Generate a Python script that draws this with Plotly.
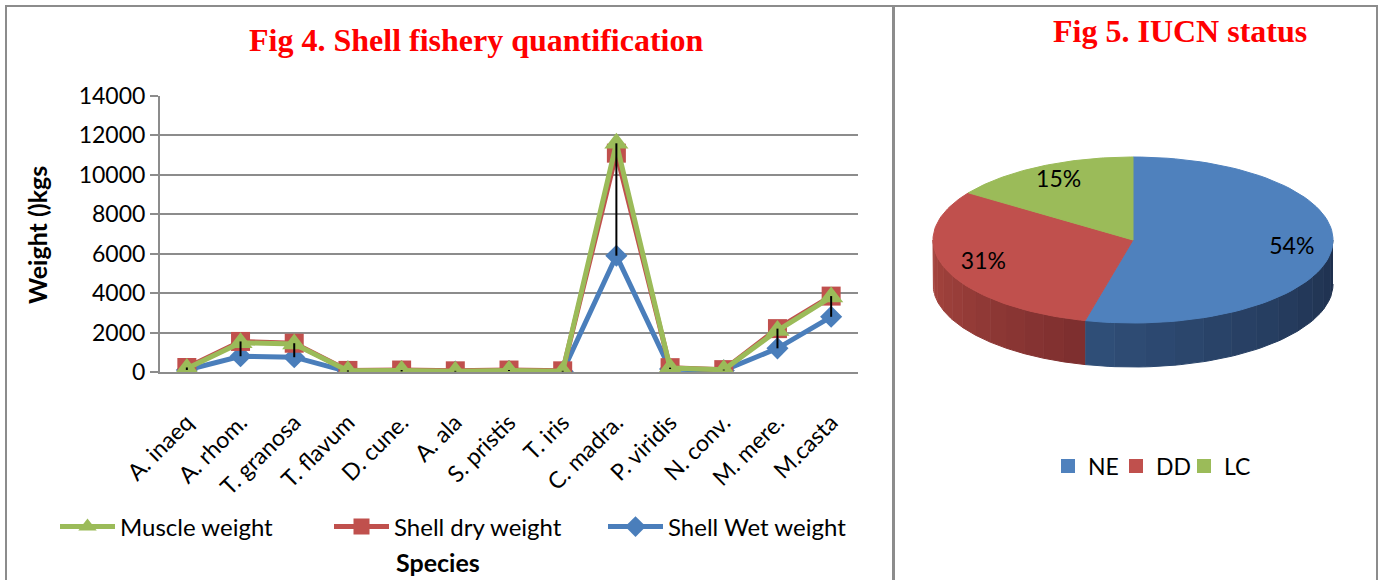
import numpy as np
import plotly.graph_objects as go

# Fig 4 data (kgs)
species = ["A. inaeq", "A. rhom.", "T. granosa", "T. flavum", "D. cune.", "A. ala", "S. pristis",
           "T. iris", "C. madra.", "P. viridis", "N. conv.", "M. mere.", "M.casta"]
shell_wet = [100, 800, 750, 20, 30, 20, 50, 20, 5900, 150, 80, 1200, 2800]
shell_dry = [230, 1550, 1460, 80, 100, 60, 100, 60, 11100, 220, 120, 2200, 3850]
muscle = [180, 1480, 1420, 60, 80, 40, 80, 40, 11600, 200, 110, 2100, 3800]

# Fig 5 data (number of species per IUCN status)
status = ["NE", "DD", "LC"]
status_count = [7, 4, 2]
status_colors = ["#4f81bd", "#c0504d", "#9bbb59"]

W, H = 1380, 580
FONT = "Lato"
GRID = "#8c8c8c"

fig = go.Figure()

# ---- line chart ----
series = [
    ("Shell Wet weight", shell_wet, "#4a7ebb", "diamond", 17, 3),
    ("Shell dry weight", shell_dry, "#c0504d", "square", 19, 2),
    ("Muscle weight", muscle, "#9bbb59", "triangle-up", 21, 1),
]
for name, vals, color, symbol, size, rank in series:
    fig.add_trace(go.Scatter(
        x=species, y=vals, name=name, mode="lines+markers",
        line=dict(color=color, width=5),
        marker=dict(symbol=symbol, size=size, color=color),
        legendrank=rank,
    ))

# high-low lines between the series
hl_x, hl_y = [], []
for i, sp in enumerate(species):
    v = [shell_wet[i], shell_dry[i], muscle[i]]
    hl_x += [sp, sp, None]
    hl_y += [min(v), max(v), None]
fig.add_trace(go.Scatter(x=hl_x, y=hl_y, mode="lines", line=dict(color="black", width=2),
                         showlegend=False, hoverinfo="skip"))

# ---- 3D-looking pie ----
cx, cy, rx, ry, depth = 1133, 240, 200, 83, 44
total = sum(status_count)
fracs = np.cumsum([0] + status_count) / total * 360


def ell(theta, dy=0):
    t = np.radians(theta)
    return cx + rx * np.sin(t), cy - ry * np.cos(t) + dy


def mix(c1, c2, f):
    a = [int(c1[i:i + 2], 16) for i in (1, 3, 5)]
    b = [int(c2[i:i + 2], 16) for i in (1, 3, 5)]
    return "rgb(%d,%d,%d)" % tuple(round(a[k] + (b[k] - a[k]) * f) for k in range(3))


side_colors = {"NE": ("#1e2f4c", "#304f79"), "DD": ("#7c2e2e", "#a8463f"), "LC": ("#6f8a3c", "#87a54a")}

# side faces (front half only)
for k, lab in enumerate(status):
    lo, hi = max(fracs[k], 90), min(fracs[k + 1], 270)
    if hi <= lo:
        continue
    edges = np.linspace(lo, hi, 13)
    for j in range(len(edges) - 1):
        ts = np.linspace(edges[j], edges[j + 1], 6)
        tx, ty = ell(ts)
        bx, by = ell(ts[::-1], depth)
        col = mix(side_colors[lab][0], side_colors[lab][1], (j + 0.5) / (len(edges) - 1))
        fig.add_trace(go.Scatter(
            x=list(tx) + list(bx), y=list(ty) + list(by), fill="toself", mode="lines",
            fillcolor=col, line=dict(color=col, width=1), xaxis="x2", yaxis="y2",
            showlegend=False, hoverinfo="skip"))

# top faces
for k, lab in enumerate(status):
    ts = np.linspace(fracs[k], fracs[k + 1], 80)
    tx, ty = ell(ts)
    fig.add_trace(go.Scatter(
        x=[cx] + list(tx) + [cx], y=[cy] + list(ty) + [cy], fill="toself", mode="lines",
        fillcolor=status_colors[k], line=dict(color=status_colors[k], width=1),
        xaxis="x2", yaxis="y2", showlegend=False, hoverinfo="skip"))

# percent labels
lx, ly, lt = [], [], []
for k in range(len(status)):
    mid = (fracs[k] + fracs[k + 1]) / 2
    t = np.radians(mid)
    lx.append(cx + 0.8 * rx * np.sin(t))
    ly.append(cy - 0.8 * ry * np.cos(t))
    lt.append(f"{round(100 * status_count[k] / total)}%")
fig.add_trace(go.Scatter(x=lx, y=ly, text=lt, mode="text", textfont=dict(family=FONT, size=23, color="black"),
                         xaxis="x2", yaxis="y2", showlegend=False, hoverinfo="skip"))

# pie legend entries
for k, lab in enumerate(status):
    fig.add_trace(go.Scatter(x=[None], y=[None], mode="markers", name=lab,
                             marker=dict(symbol="square", size=14, color=status_colors[k]),
                             xaxis="x2", yaxis="y2", legend="legend2"))


def label(text, x, y, size, angle=0, **font):
    return dict(text=text, x=x / W, y=(H - y) / H, xref="paper", yref="paper", xanchor="center",
                yanchor="middle", textangle=angle, showarrow=False, font=dict(size=size, **font))


fig.update_layout(
    width=W, height=H,
    margin=dict(l=0, r=0, t=0, b=0, autoexpand=False),
    paper_bgcolor="white", plot_bgcolor="white",
    font=dict(family=FONT, color="black"),
    xaxis=dict(domain=[160 / W, 858 / W], showgrid=False, showline=True, linecolor=GRID, linewidth=2,
               tickangle=-45, tickfont=dict(size=23), ticks="", ticklabelstandoff=26,
               range=[-0.5, 12.5], automargin=False),
    yaxis=dict(domain=[(H - 372) / H, (H - 96) / H], range=[0, 14000], dtick=2000, tickformat="d",
               showgrid=True, gridcolor=GRID, gridwidth=2, showline=True, linecolor=GRID, linewidth=2,
               ticks="outside", ticklen=8, tickcolor=GRID, tickwidth=2, tickfont=dict(size=23),
               zeroline=False, automargin=False),
    xaxis2=dict(domain=[894 / W, 1377 / W], range=[894, 1377], visible=False, anchor="y2"),
    yaxis2=dict(domain=[0, 1], range=[H, 0], visible=False, anchor="x2"),
    legend=dict(orientation="h", x=466 / W, xanchor="center", y=(H - 527) / H, yanchor="middle",
                font=dict(size=24), entrywidth=204, itemwidth=55),
    legend2=dict(orientation="h", x=1150 / W, xanchor="center", y=(H - 466) / H, yanchor="middle",
                 font=dict(size=23), entrywidth=23),
    annotations=[
        label("<b>Fig 4. Shell fishery quantification</b>", 476, 40, 32,
              family="Liberation Serif", color="#ff0000"),
        label("<b>Fig 5. IUCN status</b>", 1180, 31, 32, family="Liberation Serif", color="#ff0000"),
        label("<b>Weight ()kgs</b>", 37, 235, 25, angle=-90),
        label("<b>Species</b>", 438, 562, 25),
    ],
    shapes=[
        dict(type="rect", xref="paper", yref="paper", x0=6 / W, x1=893 / W, y0=-0.05, y1=(H - 6) / H,
             line=dict(color=GRID, width=2)),
        dict(type="rect", xref="paper", yref="paper", x0=894 / W, x1=1377 / W, y0=-0.05, y1=(H - 6) / H,
             line=dict(color=GRID, width=2)),
    ],
)

fig.write_html("out.html", config={"displayModeBar": False},
               post_script="document.body.style.margin = '0px';")
